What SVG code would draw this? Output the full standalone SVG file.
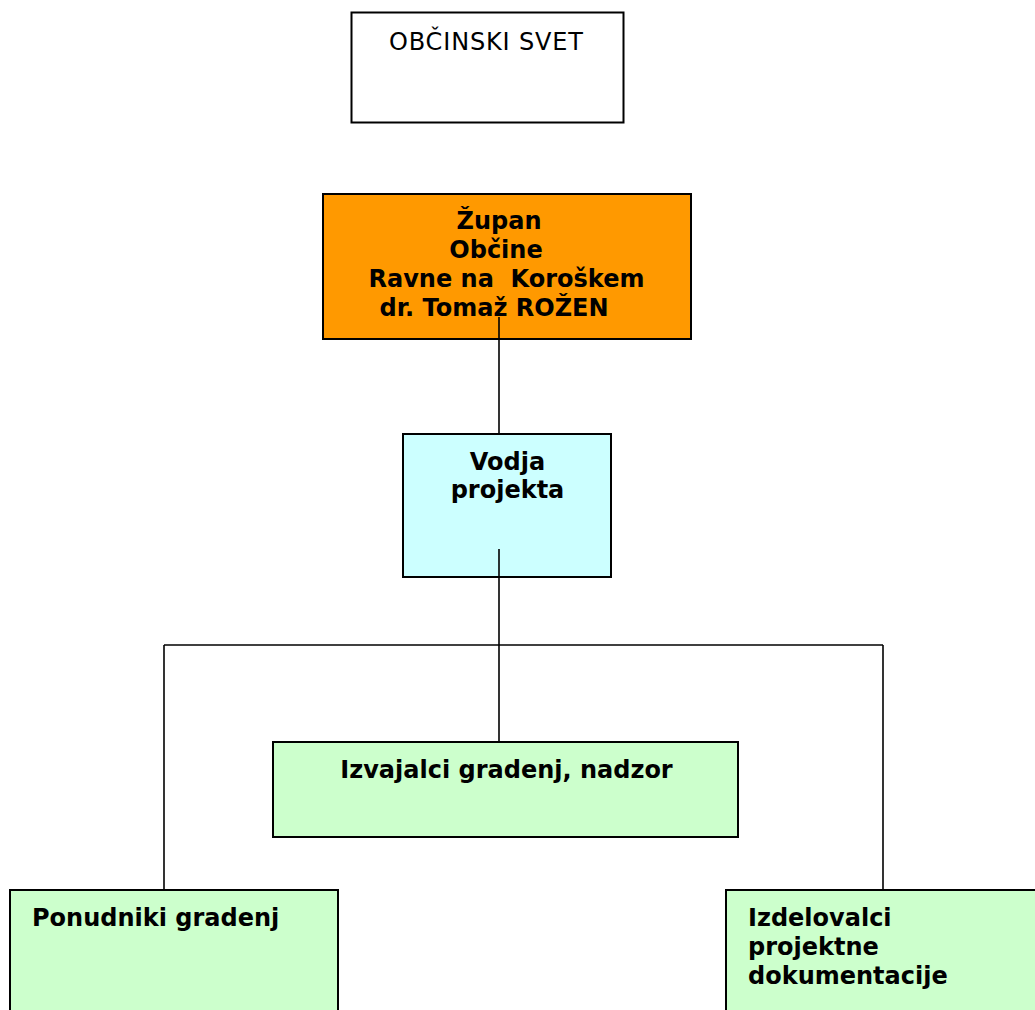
<svg xmlns="http://www.w3.org/2000/svg" width="1035" height="1010" viewBox="0 0 1035 1010">
<style>
.box{stroke:#000;stroke-width:2}
.t{font-family:"DejaVu Sans",Verdana,sans-serif;font-size:24px;fill:#000}
.b{font-weight:bold}
.c{text-anchor:middle}
.con{stroke:#000;stroke-width:1.6;fill:none}
</style>
<rect width="1035" height="1010" fill="#fff"/>
<g id="connectors">
<path class="con" d="M499 339 V434"/>
<path class="con" d="M499 577 V742"/>
<path class="con" d="M164 645 H883"/>
<path class="con" d="M164 645 V890"/>
<path class="con" d="M883 645 V890"/>
</g>
<g id="obcinski-svet">
<rect class="box" x="351.5" y="12.5" width="272" height="110" fill="#fff"/>
<text class="t c" x="486" y="50" textLength="194" lengthAdjust="spacing">OBČINSKI SVET</text>
</g>
<g id="zupan">
<rect class="box" x="323" y="194" width="368" height="145" fill="#FF9900"/>
<text class="t b c" x="499" y="229"><tspan x="499">Župan</tspan><tspan x="496" y="258">Občine</tspan><tspan x="506.5" y="287" xml:space="preserve">Ravne na  Koroškem</tspan><tspan x="494" y="316">dr. Tomaž ROŽEN</tspan></text>
<path class="con" d="M499 317 V339"/>
</g>
<g id="vodja">
<rect class="box" x="403" y="434" width="208" height="143" fill="#CCFFFF"/>
<text class="t b c" x="507.5" y="470"><tspan x="507.5">Vodja</tspan><tspan x="507.5" y="498">projekta</tspan></text>
<path class="con" d="M499 549 V577"/>
</g>
<g id="izvajalci">
<rect class="box" x="273" y="742" width="465" height="95" fill="#CCFFCC"/>
<text class="t b c" x="506.5" y="778">Izvajalci gradenj, nadzor</text>
</g>
<g id="ponudniki">
<rect class="box" x="10" y="890" width="328" height="130" fill="#CCFFCC"/>
<text class="t b" x="32" y="926">Ponudniki gradenj</text>
</g>
<g id="izdelovalci">
<rect class="box" x="726" y="890" width="320" height="130" fill="#CCFFCC"/>
<text class="t b" x="748" y="926"><tspan x="748">Izdelovalci</tspan><tspan x="748" y="955">projektne</tspan><tspan x="748" y="984">dokumentacije</tspan></text>
</g>
</svg>
